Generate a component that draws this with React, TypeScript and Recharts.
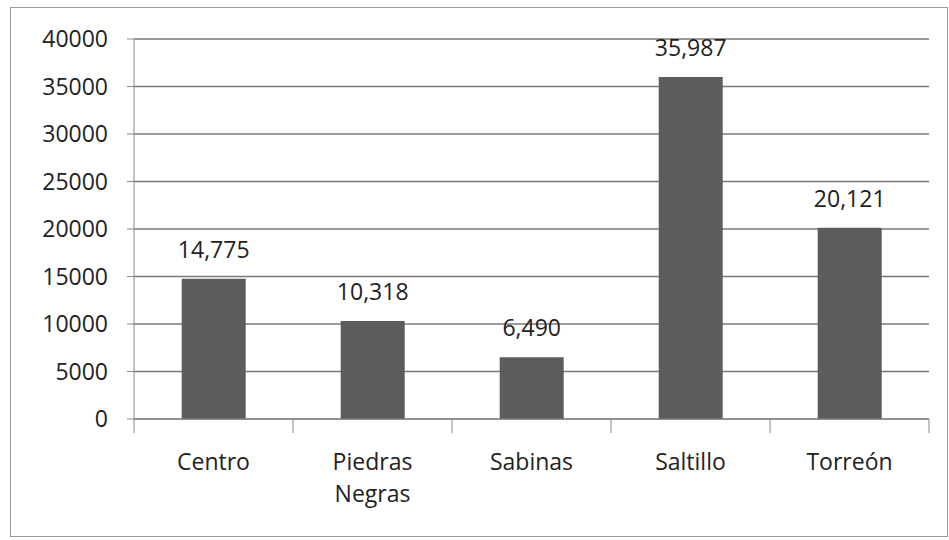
import { BarChart, Bar, XAxis, YAxis, CartesianGrid, LabelList } from 'recharts';

const categories = ['Centro', 'Piedras Negras', 'Sabinas', 'Saltillo', 'Torreón'];
const values = [14775, 10318, 6490, 35987, 20121];
const yTicks = [0, 5000, 10000, 15000, 20000, 25000, 30000, 35000, 40000];

const data = categories.map((name, i) => ({ name, value: values[i] }));

const FONT = '"Open Sans", "Noto Sans", sans-serif';
const PLOT_LEFT = 134;
const PLOT_RIGHT = 929;
const BAND = (PLOT_RIGHT - PLOT_LEFT) / categories.length;

// category label (wraps on spaces) plus boundary tick marks
function CategoryTick(props: any) {
  const { x, y, payload, index } = props;
  const words = String(payload.value).split(' ');
  const left = x - BAND / 2;
  return (
    <g>
      <line x1={left} y1={y - 8} x2={left} y2={y + 6} stroke="#888" strokeWidth={1} />
      {index === categories.length - 1 && (
        <line x1={left + BAND} y1={y - 8} x2={left + BAND} y2={y + 6} stroke="#888" strokeWidth={1} />
      )}
      <text x={x} y={y} textAnchor="middle" fill="#222" fontSize={23} fontFamily={FONT}>
        {words.map((w, i) => (
          <tspan key={i} x={x} dy={i === 0 ? 43 : 32}>
            {w}
          </tspan>
        ))}
      </text>
    </g>
  );
}

export default function App() {
  return (
    <div style={{ position: 'absolute', left: 0, top: 0, width: 949, height: 540, background: '#fff' }}>
      <div
        style={{
          position: 'absolute',
          left: 10,
          top: 7,
          width: 936,
          height: 528,
          border: '1px solid #9a9a9a',
          pointerEvents: 'none',
        }}
      />
      <BarChart
        width={949}
        height={540}
        data={data}
        margin={{ top: 39, right: 949 - PLOT_RIGHT, bottom: 0, left: 0 }}
        barCategoryGap="30%"
      >
        <CartesianGrid vertical={false} stroke="#7a7a7a" strokeWidth={1.3} />
        <YAxis
          width={PLOT_LEFT}
          domain={[0, 40000]}
          ticks={yTicks}
          interval={0}
          axisLine={{ stroke: '#888' }}
          tickLine={{ stroke: '#888' }}
          tickSize={7}
          tickMargin={19}
          tick={{ fill: '#222', fontSize: 23, fontFamily: FONT }}
        />
        <XAxis
          dataKey="name"
          height={121}
          interval={0}
          axisLine={{ stroke: '#888' }}
          tickLine={false}
          tick={<CategoryTick />}
        />
        <Bar dataKey="value" fill="#5c5c5c" isAnimationActive={false}>
          <LabelList
            dataKey="value"
            position="top"
            offset={21}
            formatter={(v: any) => Number(v).toLocaleString('en-US')}
            style={{ fill: '#222', fontSize: 23, fontFamily: FONT }}
          />
        </Bar>
      </BarChart>
    </div>
  );
}
